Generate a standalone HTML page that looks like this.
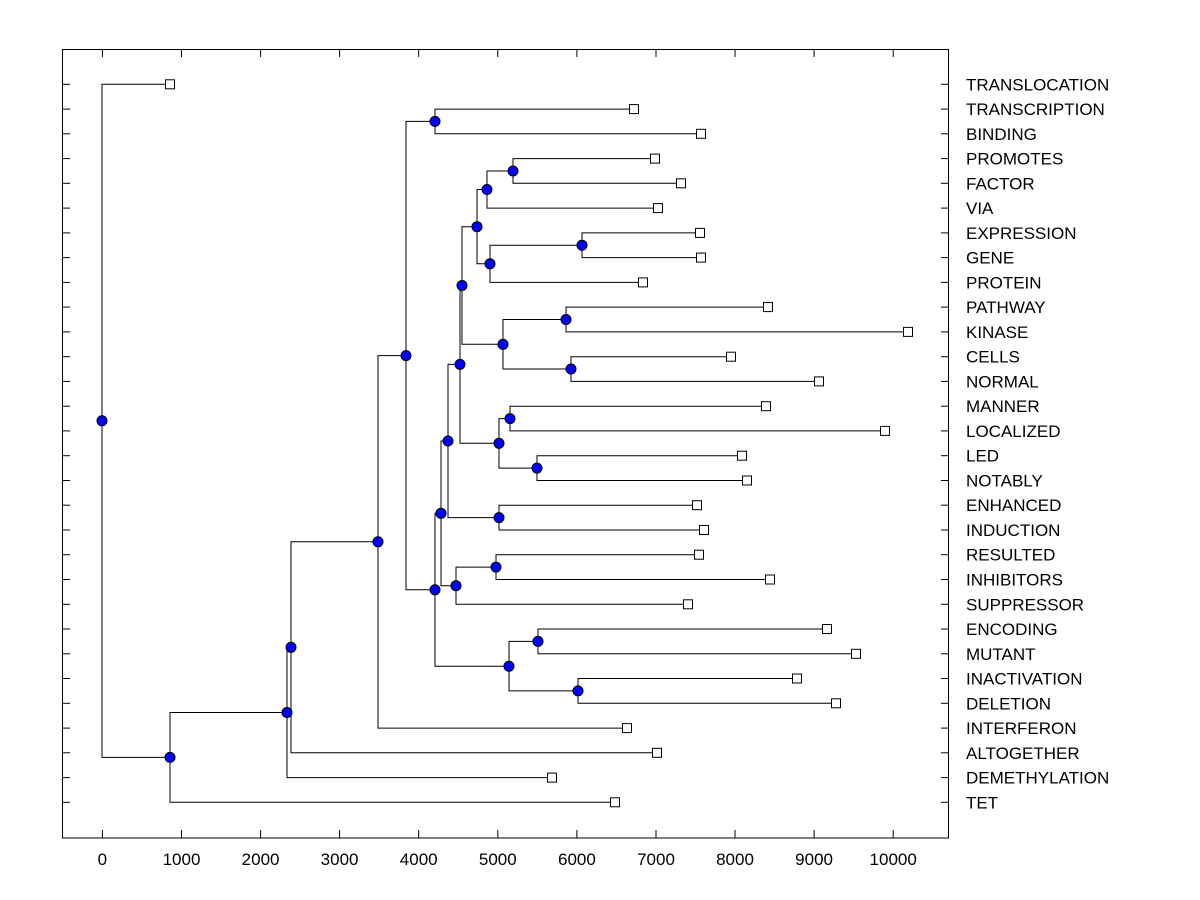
<!DOCTYPE html>
<html><head><meta charset="utf-8"><style>
html,body{margin:0;padding:0;background:#fff;width:1200px;height:900px;overflow:hidden}
svg{display:block}
text{font-family:"Liberation Sans",Arial,sans-serif;font-size:17px;fill:#000}
</style></head><body>
<svg id="s" width="1200" height="900" xmlns="http://www.w3.org/2000/svg"></svg>
<script>
const s=document.getElementById('s');
let out='';
const names=["TRANSLOCATION","TRANSCRIPTION","BINDING","PROMOTES","FACTOR","VIA","EXPRESSION","GENE","PROTEIN","PATHWAY","KINASE","CELLS","NORMAL","MANNER","LOCALIZED","LED","NOTABLY","ENHANCED","INDUCTION","RESULTED","INHIBITORS","SUPPRESSOR","ENCODING","MUTANT","INACTIVATION","DELETION","INTERFERON","ALTOGETHER","DEMETHYLATION","TET"];
const lx=[170,634,701,655,681,658,700,701,643,768,908,731,819,766,885,742,747,697,704,699,770,688,827,856,797,836,627,657,552,615];
const Y=i=>84.3+i*24.76;
out+='<rect x="62.5" y="49.5" width="886" height="788.5" fill="none" stroke="#000" stroke-width="1"/>';
for(let i=0;i<30;i++){const y=Y(i).toFixed(1);
 out+=`<line x1="62" y1="${y}" x2="70" y2="${y}" stroke="#000"/><line x1="941" y1="${y}" x2="949" y2="${y}" stroke="#000"/>`;
 out+=`<text x="966" y="${(Y(i)+6).toFixed(1)}">${names[i]}</text>`;}
const X=v=>102.4+v*0.07908;
for(let v=0;v<=10000;v+=1000){const x=X(v).toFixed(1);
 out+=`<line x1="${x}" y1="49" x2="${x}" y2="57" stroke="#000"/><line x1="${x}" y1="830" x2="${x}" y2="838" stroke="#000"/>`;
 out+=`<text x="${x}" y="865" text-anchor="middle">${v}</text>`;}
const T=[102,0,[170,[287,[291,[378,[406,[435,1,2],[435,[441,[448,[460,[462,[477,[487,[513,3,4],5],[490,[582,6,7],8]],[503,[566,9,10],[571,11,12]]],[499,[510,13,14],[537,15,16]]],[499,17,18]],[456,[496,19,20],21]],[509,[538,22,23],[578,24,25]]]],26],27],28],29]];
let lines='',marks='';
function walk(n){
 if(typeof n==='number'){const x=lx[n],y=Y(n);marks+=`<rect x="${x-4.5}" y="${(y-4.5).toFixed(1)}" width="9" height="9" fill="#fff" stroke="#000"/>`;return [x,y];}
 const a=walk(n[1]),b=walk(n[2]);const x=n[0],y=(a[1]+b[1])/2;
 lines+=`<path d="M${a[0]} ${a[1].toFixed(1)}H${x}V${b[1].toFixed(1)}H${b[0]}" fill="none" stroke="#000"/>`;
 marks+=`<circle cx="${x}" cy="${y.toFixed(1)}" r="5" fill="#0000ff" stroke="#000"/>`;
 return [x,y];}
walk(T);
out+=lines+marks;
s.innerHTML=out;
</script>
</body></html>
